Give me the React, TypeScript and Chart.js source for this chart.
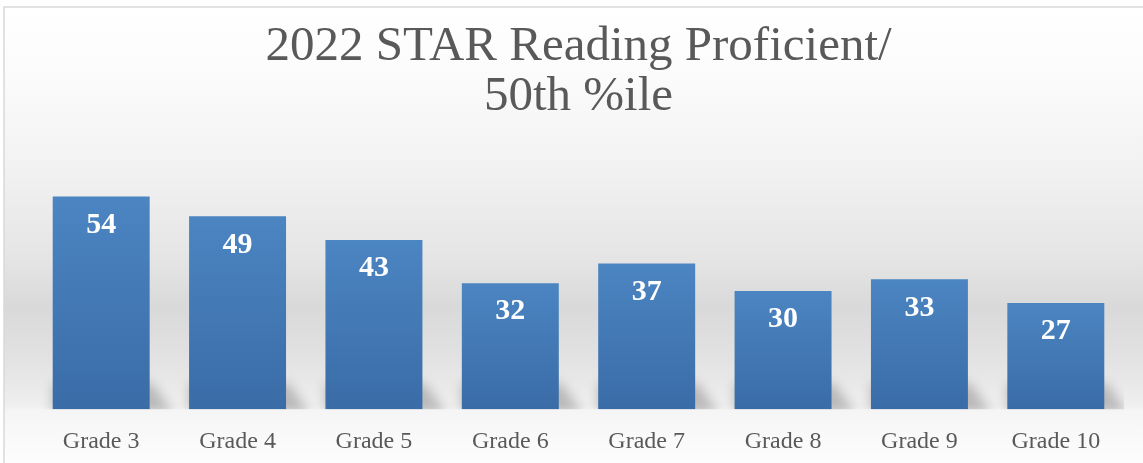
import React, { useEffect, useRef } from 'react';
import { Chart, registerables } from 'chart.js';

Chart.register(...registerables);

const categories = ['Grade 3', 'Grade 4', 'Grade 5', 'Grade 6', 'Grade 7', 'Grade 8', 'Grade 9', 'Grade 10'];
const proficientValues = [54, 49, 43, 32, 37, 30, 33, 27];
const titleLines = ['2022 STAR Reading Proficient/', '50th %ile'];
const yAxisMin = 0;
const yAxisMax = 60;

const SERIF = "'Liberation Serif', 'Times New Roman', serif";

const backgroundPlugin = {
  id: 'bgPlugin',
  beforeDraw(chart: any) {
    const { ctx, width, height } = chart;
    ctx.save();
    ctx.fillStyle = '#ffffff';
    ctx.fillRect(0, 0, width, height);
    const g = ctx.createLinearGradient(0, 7, 0, height);
    g.addColorStop(0, '#ffffff');
    g.addColorStop(0.15, '#fbfbfb');
    g.addColorStop(0.35, '#f2f2f2');
    g.addColorStop(0.55, '#e5e5e5');
    g.addColorStop(0.66, '#d9d9d9');
    g.addColorStop(0.78, '#e3e3e3');
    g.addColorStop(0.875, '#efefef');
    g.addColorStop(0.885, '#f5f5f5');
    g.addColorStop(1, '#fdfdfd');
    ctx.fillStyle = g;
    ctx.fillRect(4, 7, width, height);
    ctx.strokeStyle = '#d9d9d9';
    ctx.lineWidth = 1.5;
    ctx.beginPath();
    ctx.moveTo(4, height + 5);
    ctx.lineTo(4, 7);
    ctx.lineTo(width + 5, 7);
    ctx.stroke();
    ctx.restore();
  },
};

const barDecorPlugin = {
  id: 'barDecor',
  beforeDatasetsDraw(chart: any) {
    const { ctx, chartArea } = chart;
    const meta = chart.getDatasetMeta(0);
    ctx.save();
    ctx.beginPath();
    ctx.rect(chartArea.left, chartArea.top, chartArea.right - chartArea.left, chartArea.bottom - chartArea.top);
    ctx.clip();
    ctx.filter = 'blur(6px)';
    ctx.fillStyle = 'rgba(0,0,0,0.22)';
    meta.data.forEach((el: any) => {
      const half = el.width / 2;
      const xl = el.x - half;
      const xr = el.x + half;
      const b = el.base;
      ctx.beginPath();
      ctx.moveTo(xl, b + 4);
      ctx.lineTo(xr + 24, b + 4);
      ctx.lineTo(xr + 2, b - 26);
      ctx.lineTo(xl, b - 26);
      ctx.closePath();
      ctx.fill();
    });
    ctx.restore();
  },
  afterDatasetsDraw(chart: any) {
    const { ctx } = chart;
    const meta = chart.getDatasetMeta(0);
    const data = chart.data.datasets[0].data;
    ctx.save();
    ctx.fillStyle = '#ffffff';
    ctx.font = `bold 30px ${SERIF}`;
    ctx.textAlign = 'center';
    ctx.textBaseline = 'middle';
    meta.data.forEach((el: any, i: number) => {
      ctx.fillText(String(data[i]), el.x, el.y + 28.5);
    });
    ctx.restore();
  },
};

export default function App() {
  const ref = useRef<HTMLCanvasElement | null>(null);

  useEffect(() => {
    const canvas = ref.current;
    if (!canvas) return;
    const chart = new Chart(canvas, {
      type: 'bar',
      data: {
        labels: categories,
        datasets: [
          {
            label: '2022 STAR Reading Proficient/50th %ile',
            data: proficientValues,
            backgroundColor: (c: any) => {
              const ch = c.chart;
              if (!ch.chartArea || c.parsed == null) return '#4679b6';
              const y = ch.scales.y;
              const top = y.getPixelForValue(c.parsed.y);
              const bottom = y.getPixelForValue(0);
              const g = ch.ctx.createLinearGradient(0, top, 0, bottom);
              g.addColorStop(0, '#4b85c2');
              g.addColorStop(1, '#3a6ca7');
              return g;
            },
            borderWidth: 0,
            barPercentage: 0.711,
            categoryPercentage: 1,
          },
        ],
      },
      options: {
        responsive: true,
        maintainAspectRatio: false,
        animation: false,
        layout: { padding: { left: 33, right: 19, top: 22, bottom: -11 } },
        plugins: {
          legend: { display: false },
          tooltip: { enabled: false },
          title: {
            display: true,
            text: titleLines,
            color: '#595959',
            font: { family: SERIF, size: 49, weight: 'normal', lineHeight: 50 / 49 },
            padding: { top: 0, bottom: 51 },
          },
        },
        scales: {
          x: {
            grid: { display: false, drawTicks: false },
            border: { display: false },
            ticks: {
              color: '#595959',
              font: { family: SERIF, size: 24 },
              padding: 18,
              maxRotation: 0,
            },
          },
          y: {
            display: false,
            min: yAxisMin,
            max: yAxisMax,
          },
        },
      },
      plugins: [backgroundPlugin, barDecorPlugin],
    });
    return () => chart.destroy();
  }, []);

  return (
    <div style={{ position: 'absolute', left: 0, top: 0, width: 1143, height: 463 }}>
      <canvas ref={ref} />
    </div>
  );
}
